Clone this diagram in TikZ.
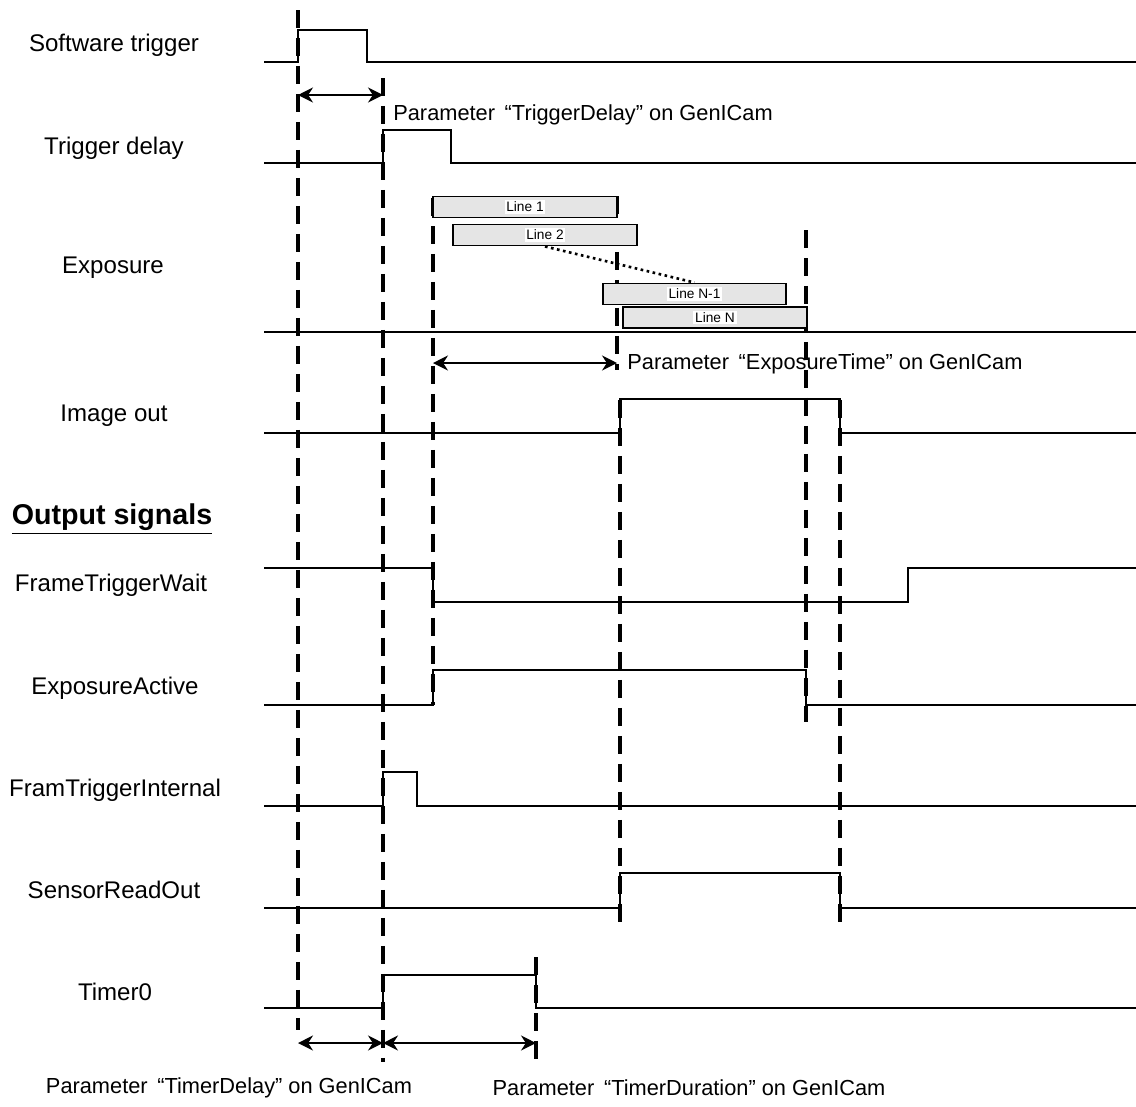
\documentclass[tikz,border=0pt]{standalone}
\usepackage{fontspec}
\setmainfont{Liberation Sans}
\usetikzlibrary{arrows.meta}

\tikzset{
  sig/.style={line width=1.1pt},
  guide/.style={line width=2.2pt, dash pattern=on 0.36cm off 0.2cm},
  dim/.style={line width=1.1pt, {Stealth[length=0.3cm,width=0.3cm]}-{Stealth[length=0.3cm,width=0.3cm]}},
  lbl/.style={font=\fontsize{13.7}{16}\selectfont, inner sep=0pt},
  param/.style={font=\fontsize{12.4}{15}\selectfont, inner sep=0pt},
  exbox/.style={draw, line width=1.1pt, fill=gray!20, minimum height=0.42cm, inner sep=0pt},
  extxt/.style={fill=white, inner sep=1pt, font=\fontsize{7.8}{9}\selectfont},
}

\begin{document}
\begin{tikzpicture}[x=0.02cm, y=-0.02cm]
  \useasboundingbox (0,0) rectangle (1136,1106);

  % signal names
  \node[lbl] (sw)  at (114,45)  {Software trigger};
  \node[lbl] (td)  at (114,148) {Trigger delay};
  \node[lbl] (exp) at (113,268) {Exposure};
  \node[lbl] (img) at (114,416) {Image out};
  \node[lbl, font=\fontsize{16.3}{19}\selectfont\bfseries] (outsig) at (112,519) {\underline{Output signals}};
  \node[lbl] (ftw) at (111,585) {FrameTriggerWait};
  \node[lbl] (ea)  at (115,688) {ExposureActive};
  \node[lbl] (fti) at (115,790) {FramTriggerInternal};
  \node[lbl] (sro) at (114,890) {SensorReadOut};
  \node[lbl] (tm0) at (115,992) {Timer0};

  % dashed guides
  \draw[guide] (298,10) -- (298,1030);
  \draw[guide] (383,78) -- (383,1062);
  \draw[guide] (433,198) -- (433,705);
  \draw[guide] (617,196) -- (617,370);
  \draw[guide] (620,400) -- (620,925);
  \draw[guide] (806,230) -- (806,722);
  \draw[guide] (840,400) -- (840,925);
  \draw[guide] (536,957) -- (536,1062);

  % waveforms
  \draw[sig] (264,62) -- (298,62) -- (298,30) -- (367,30) -- (367,62) -- (1136,62);  % software trigger
  \draw[sig] (264,163) -- (383,163) -- (383,130) -- (451,130) -- (451,163) -- (1136,163);  % trigger delay
  \draw[sig] (264,332) -- (1136,332);  % exposure base
  \draw[sig] (264,433) -- (620,433) -- (620,399) -- (840,399) -- (840,433) -- (1136,433);  % image out
  \draw[sig] (264,568) -- (433,568) -- (433,602) -- (908,602) -- (908,568) -- (1136,568);  % frame trigger wait
  \draw[sig] (264,705) -- (433,705) -- (433,670) -- (806,670) -- (806,705) -- (1136,705);  % exposure active
  \draw[sig] (264,806) -- (383,806) -- (383,772) -- (417,772) -- (417,806) -- (1136,806);  % fram trigger internal
  \draw[sig] (264,908) -- (620,908) -- (620,873) -- (840,873) -- (840,908) -- (1136,908);  % sensor read out
  \draw[sig] (264,1008) -- (383,1008) -- (383,975) -- (536,975) -- (536,1008) -- (1136,1008);  % timer0

  % exposure lines
  \node[exbox, minimum width=3.68cm, label={[extxt]center:Line 1}] (line1) at (525,207) {};
  \node[exbox, minimum width=3.68cm, label={[extxt]center:Line 2}] (line2) at (545,235) {};
  \node[exbox, minimum width=3.66cm, label={[extxt]center:Line N-1}] (lineN1) at (694.5,294) {};
  \node[exbox, minimum width=3.68cm, label={[extxt]center:Line N}] (lineN) at (715,317.5) {};
  \draw[dotted, line width=1.5pt] (line2.south) -- (lineN1.north);

  % dimension arrows
  \coordinate (d1a) at (298,95);
  \coordinate (d1b) at (383,95);
  \coordinate (d2a) at (433,363);
  \coordinate (d2b) at (617,363);
  \coordinate (d3a) at (298,1043);
  \coordinate (d3b) at (383,1043);
  \coordinate (d3c) at (536,1043);
  \draw[dim] (d1a) -- (d1b);
  \draw[dim] (d2a) -- (d2b);
  \draw[dim] (d3a) -- (d3b);
  \draw[dim] (d3b) -- (d3c);

  % parameter labels
  \node[param, anchor=west] (pdelay) at (393,115) {Parameter \,“TriggerDelay” on GenICam};
  \node[param, anchor=west] (pexp) at (627,364) {Parameter \,“ExposureTime” on GenICam};
  \node[param] (ptdel) at (229,1088) {Parameter \,“TimerDelay” on GenICam};
  \node[param] (ptdur) at (689,1088) {Parameter \,“TimerDuration” on GenICam};
\end{tikzpicture}
\end{document}
